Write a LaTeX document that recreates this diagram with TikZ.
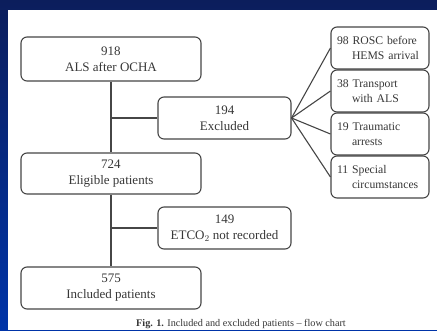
\documentclass[tikz,border=0pt]{standalone}
\usepackage{fontspec}
\setmainfont{Liberation Serif}
\definecolor{navytop}{RGB}{12,30,92}
\definecolor{bluebot}{RGB}{0,52,168}
\definecolor{boxline}{RGB}{70,70,70}
\definecolor{txt}{RGB}{55,55,55}
\tikzset{
  mainbox/.style={draw=boxline, line width=1.1pt, rounded corners=6pt, fill=white,
    text=txt, align=center, minimum width=180pt, font=\fontsize{13}{16}\selectfont, inner sep=0pt},
  exbox/.style={draw=boxline, line width=1.1pt, rounded corners=6pt, fill=white,
    text=txt, align=center, minimum width=133pt, minimum height=42pt, font=\fontsize{13}{16}\selectfont, inner sep=0pt},
  subbox/.style={draw=boxline, line width=1.1pt, rounded corners=6pt, fill=white,
    text=txt, align=left, text width=86pt, inner xsep=6pt, inner ysep=0pt, minimum height=42pt,
    font=\fontsize{11.7}{15}\selectfont},
  conn/.style={draw=boxline, line width=1.1pt}
}
\begin{document}
\begin{tikzpicture}[x=1pt,y=-1pt]
\clip (0,0) rectangle (437,330);
\shade[top color=navytop, bottom color=bluebot] (0,0) rectangle (437,330);
\fill[white] (8,10) rectangle (437,330);

\node[mainbox, minimum height=44pt] (n918) at (111,59) {918\\ALS after OCHA};
\node[exbox] (n194) at (224.5,118) {194\\Excluded};
\node[mainbox, minimum height=41pt] (n724) at (111,173.5) {724\\Eligible patients};
\node[exbox] (n149) at (224.5,228) {149\\ETCO$_2$ not recorded};
\node[mainbox, minimum height=42pt] (n575) at (111,288) {575\\Included patients};

\node[subbox] (r1) at (380,48) {98 ROSC before\\\hspace*{15pt}HEMS arrival};
\node[subbox] (r2) at (380,91) {38 Transport\\\hspace*{15pt}with ALS};
\node[subbox] (r3) at (380,134) {19 Traumatic\\\hspace*{15pt}arrests};
\node[subbox] (r4) at (380,177) {11 Special\\\hspace*{15pt}circumstances};

\draw[conn] (n918.south) -- (n724.north);
\draw[conn] (n918.south |- n194.west) -- (n194.west);
\draw[conn] (n724.south) -- (n575.north);
\draw[conn] (n724.south |- n149.west) -- (n149.west);
\foreach \r in {r1,r2,r3,r4} \draw[conn] (n194.east) -- (\r.west);

\node[anchor=base, text=txt, font=\fontsize{10.2}{12}\selectfont, inner sep=0pt] (cap) at (241,326)
  {\textbf{Fig. 1.} Included and excluded patients -- flow chart};
\end{tikzpicture}
\end{document}
